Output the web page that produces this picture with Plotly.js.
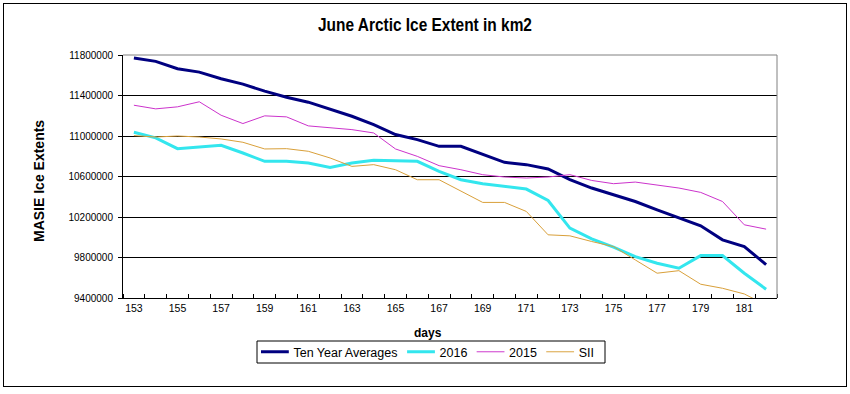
<!DOCTYPE html>
<html>
<head>
<meta charset="utf-8">
<script src="https://cdn.plot.ly/plotly-3.0.1.min.js"></script>
<style>
  html, body { margin: 0; padding: 0; background: #fff; overflow: hidden; }
  #frame { position: absolute; left: 3px; top: 3px; width: 842px; height: 382px; border: 1px solid #000; }
  #chart { position: absolute; left: 0; top: 0; width: 850px; height: 394px; }
</style>
</head>
<body>
<div id="frame"></div>
<div id="chart"></div>
<script>
const days = [153,154,155,156,157,158,159,160,161,162,163,164,165,166,167,168,169,170,171,172,173,174,175,176,177,178,179,180,181,182];
const tenYearAverages = [11770000,11737000,11664000,11631000,11565000,11512000,11443000,11383000,11334000,11268000,11195000,11113000,11014000,10964000,10898000,10898000,10816000,10740000,10717000,10674000,10570000,10486000,10420000,10353000,10271000,10195000,10113000,9974000,9908000,9730000];
const y2016 = [11037000,10981000,10875000,10888000,10908000,10832000,10750000,10750000,10733000,10690000,10733000,10760000,10755000,10750000,10650000,10568000,10529000,10502000,10476000,10363000,10090000,9984000,9902000,9809000,9743000,9694000,9819000,9819000,9645000,9486000];
const y2015 = [11304000,11268000,11288000,11338000,11205000,11123000,11199000,11189000,11100000,11080000,11063000,11030000,10872000,10799000,10707000,10667000,10618000,10595000,10585000,10595000,10618000,10561000,10529000,10545000,10519000,10486000,10443000,10353000,10123000,10080000];
const ySII = [11004000,10990000,11000000,10990000,10971000,10938000,10872000,10875000,10849000,10783000,10700000,10717000,10667000,10568000,10568000,10453000,10344000,10344000,10255000,10024000,10014000,9958000,9908000,9776000,9645000,9670000,9536000,9496000,9440000,9330000];
const yTicks = [9400000,9800000,10200000,10600000,11000000,11400000,11800000];
const xTicks = [153,155,157,159,161,163,165,167,169,171,173,175,177,179,181];

const FONT = '"Liberation Sans", Arial, sans-serif';

const traces = [
  {x: days, y: tenYearAverages, name: 'Ten Year Averages', mode: 'lines', line: {color: '#000080', width: 3}},
  {x: days, y: y2016, name: '2016', mode: 'lines', line: {color: '#33E6EE', width: 3}},
  {x: days, y: y2015, name: '2015', mode: 'lines', line: {color: '#CC33CC', width: 1}},
  {x: days, y: ySII, name: 'SII', mode: 'lines', line: {color: '#D9A03A', width: 1}}
];

// plot area: x 123..777, y 55..298 (px)
const PX = v => (v - 123) / 654;
const PY = v => (298 - v) / 243;

const layout = {
  width: 850, height: 394,
  margin: {l: 123, r: 73, t: 55, b: 96},
  paper_bgcolor: 'rgba(0,0,0,0)',
  plot_bgcolor: '#fff',
  font: {family: FONT, color: '#000', size: 11},
  title: {text: '<b>June Arctic Ice Extent in km2</b>', x: 0.5, xref: 'container', y: 1 - 25/394, yref: 'container', yanchor: 'middle', font: {family: FONT, size: 18.5, color: '#000'}},
  showlegend: true,
  legend: {orientation: 'h', x: PX(256), xanchor: 'left', y: PY(352), yanchor: 'middle', borderwidth: 0, bgcolor: 'rgba(0,0,0,0)', font: {family: FONT, size: 13.5}, itemwidth: 30, tracegroupgap: 0},
  xaxis: {
    range: [152.5, 182.5], tickmode: 'array', tickvals: xTicks, ticktext: xTicks.map(String),
    ticks: '', showgrid: false, zeroline: false,
    showline: true, linecolor: '#000', linewidth: 1,
    tickfont: {family: FONT, size: 10.5},
    minor: {ticks: 'inside', ticklen: 4, tickcolor: '#000', tickwidth: 1, tick0: 152.5, dtick: 1, showgrid: false}
  },
  yaxis: {
    range: [9400000, 11800000], tickmode: 'array', tickvals: yTicks, ticktext: yTicks.map(String),
    ticks: 'outside', ticklen: 4, tickcolor: '#000', showgrid: true, gridcolor: '#000', gridwidth: 1,
    zeroline: false, showline: true, linecolor: '#000', linewidth: 1,
    ticklabelstandoff: 3,
    tickfont: {family: FONT, size: 10}
  },
  shapes: [
    {type: 'line', xref: 'paper', yref: 'paper', x0: 0, x1: 1, y0: 1, y1: 1, line: {color: '#808080', width: 1}},
    {type: 'line', xref: 'paper', yref: 'paper', x0: 1, x1: 1, y0: 0, y1: 1, line: {color: '#808080', width: 1}},
    {type: 'rect', xref: 'paper', yref: 'paper', x0: PX(257), x1: PX(605), y0: PY(363), y1: PY(341), line: {color: '#000', width: 1}, fillcolor: 'rgba(0,0,0,0)', layer: 'below'}
  ],
  annotations: [
    {text: '<b>days</b>', xref: 'paper', yref: 'paper', x: PX(428), y: PY(333), xanchor: 'center', yanchor: 'middle', showarrow: false, font: {family: FONT, size: 12}},
    {text: '<b>MASIE Ice Extents</b>', xref: 'paper', yref: 'paper', x: PX(39), y: PY(181), xanchor: 'center', yanchor: 'middle', textangle: -90, showarrow: false, font: {family: FONT, size: 14}}
  ]
};

Plotly.newPlot('chart', traces, layout, {displayModeBar: false, staticPlot: true}).then(function (gd) {
  // the reference title is set in a narrow face: condense it horizontally
  const t = gd.querySelector('.gtitle');
  if (t) {
    const b = t.getBBox();
    const cx = b.x + b.width / 2;
    const prev = t.getAttribute('transform') || '';
    t.setAttribute('transform', prev + ' translate(' + cx + ',0) scale(0.835,1) translate(' + (-cx) + ',0)');
  }
  // fit the legend row inside the reference legend box (x 261..594)
  const lg = gd.querySelector('g.legend');
  if (lg) {
    const lines = lg.querySelectorAll('.legendlines path, .legendlines');
    const texts = lg.querySelectorAll('.legendtext');
    let left = Infinity, right = -Infinity;
    lines.forEach(function (p) { const r = p.getBoundingClientRect(); if (r.width > 0) left = Math.min(left, r.left); });
    texts.forEach(function (p) { const r = p.getBoundingClientRect(); if (r.width > 0) right = Math.max(right, r.right); });
    const m = /translate\(\s*([-\d.e]+)[ ,]+([-\d.e]+)\s*\)/.exec(lg.getAttribute('transform') || '');
    if (m && isFinite(left) && isFinite(right) && right > left) {
      const X = parseFloat(m[1]), Y = parseFloat(m[2]);
      const target0 = 261, target1 = 594;
      const sx = Math.min(1, (target1 - target0) / (right - left));
      lg.setAttribute('transform', 'translate(' + (target0 + sx * (X - left)) + ',' + Y + ') scale(' + sx + ',1)');
    }
  }
});
</script>
</body>
</html>
